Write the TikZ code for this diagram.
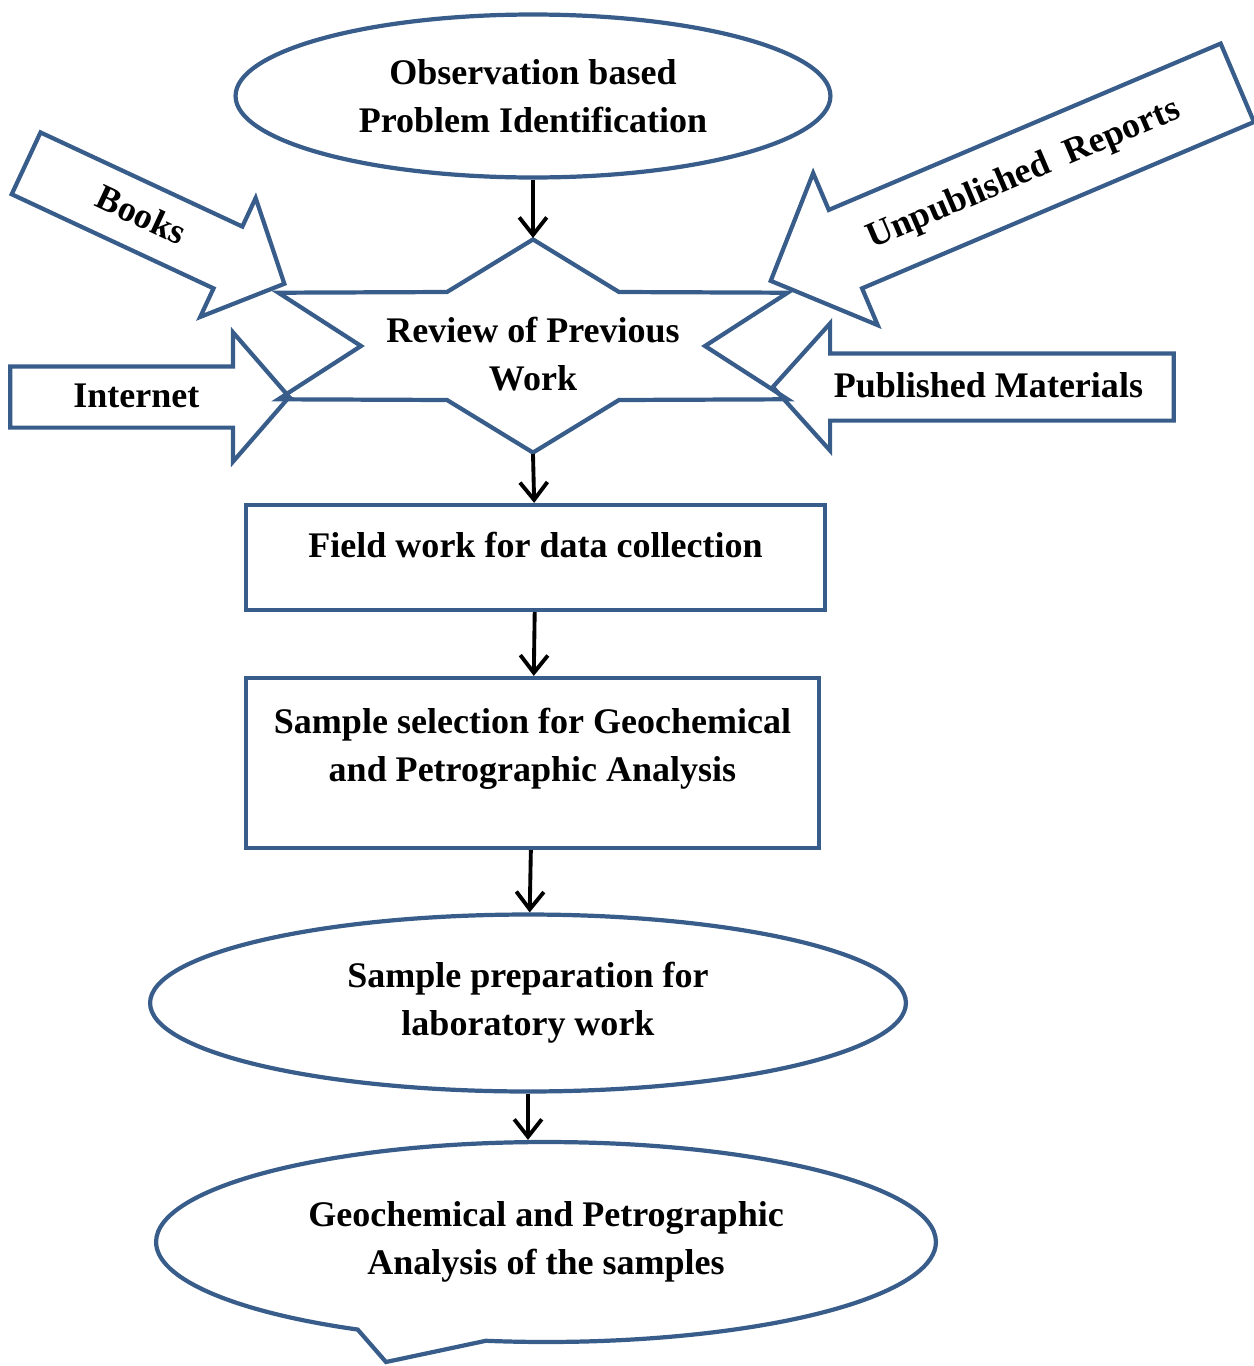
\documentclass[tikz,border=0pt]{standalone}
\usepackage{fontspec}
\setmainfont{Liberation Serif}
\usetikzlibrary{shapes.geometric,shapes.arrows,shapes.callouts,arrows.meta}
\definecolor{flowblue}{RGB}{56,93,138}

\begin{document}
\begin{tikzpicture}[x=0.02cm,y=-0.02cm,
    every node/.style={font=\fontsize{20.5}{27.3}\selectfont\bfseries, align=center},
    blueline/.style={draw=flowblue, line width=2.4pt},
    ovalnode/.style={blueline, fill=white, ellipse, inner sep=0pt},
    procbox/.style={blueline, fill=white, rectangle, inner sep=0pt},
    srcarrow/.style={blueline, fill=white, single arrow, anchor=tip, inner xsep=0pt,
      text height=0.5cm, text depth=0.1cm},
    flow/.style={-{Straight Barb[length=3.5mm,width=5.5mm]}, line width=2.2pt}]
    \useasboundingbox (0,0) rectangle (1254,1366);

    \node[ovalnode, minimum width=11.9cm, minimum height=3.26cm] (obs) at (533,96)
      {Observation based\\ Problem Identification};

    % sources feeding the review
    \node[srcarrow, rotate=-25, minimum height=5.7cm, inner ysep=0.34cm,
      single arrow head extend=0.63cm, single arrow tip angle=93] (books) at (287,285) {Books};
    \node[srcarrow, minimum height=5.58cm, inner ysep=0.27cm,
      single arrow head extend=0.68cm, single arrow tip angle=98] (inet) at (292,397) {Internet};
    \node[srcarrow, rotate=23, shape border rotate=180, minimum height=10.14cm, inner ysep=0.51cm,
      single arrow head extend=0.8cm, single arrow tip angle=91] (unpub) at (768,282) {Unpublished\enspace Reports};
    \node[srcarrow, shape border rotate=180, minimum height=8.02cm, inner ysep=0.33cm,
      single arrow head extend=0.6cm, single arrow tip angle=96] (pubmat) at (770,387) {Published Materials};

    % review star
    \draw[blueline, shift={(533,346)}, yscale=0.3625]
      (90:294) -- (60:172) -- (30:294) -- (0:172) -- (-30:294) -- (-60:172) --
      (-90:294) -- (-120:172) -- (-150:294) -- (180:172) -- (150:294) -- (120:172) -- cycle;
    \node (rev) at (533,354) {Review of Previous\\ Work};
    \coordinate (revtop) at (533,238);
    \coordinate (revbot) at (533,454);

    \node[procbox, minimum width=11.58cm, minimum height=2.1cm, text height=0.5cm, text depth=0.5cm]
      (field) at (535.5,557.5) {Field work for data collection};
    \node[procbox, minimum width=11.46cm, minimum height=3.4cm] (sel) at (532.5,763)
      {Sample selection for Geochemical\\ and Petrographic Analysis\\[-0.25cm] \mbox{}};
    \node[ovalnode, minimum width=15.12cm, minimum height=3.54cm] (prep) at (528,1003)
      {Sample preparation for\\ laboratory work};
    \coordinate (ptr) at (386,1362);
    \node[blueline, fill=white, ellipse callout, inner sep=0pt, minimum width=15.6cm, minimum height=4cm,
      callout absolute pointer={(ptr)}, callout pointer arc=20] (result) at (546,1242)
      {Geochemical and Petrographic\\ Analysis of the samples};

    \draw[flow] (obs.south) -- (revtop);
    \draw[flow] (revbot) -- (field);
    \draw[flow] (field) -- (sel);
    \draw[flow] (sel) -- (prep);
    \draw[flow] (prep.south) -- (prep.south |- result.north);
\end{tikzpicture}
\end{document}
